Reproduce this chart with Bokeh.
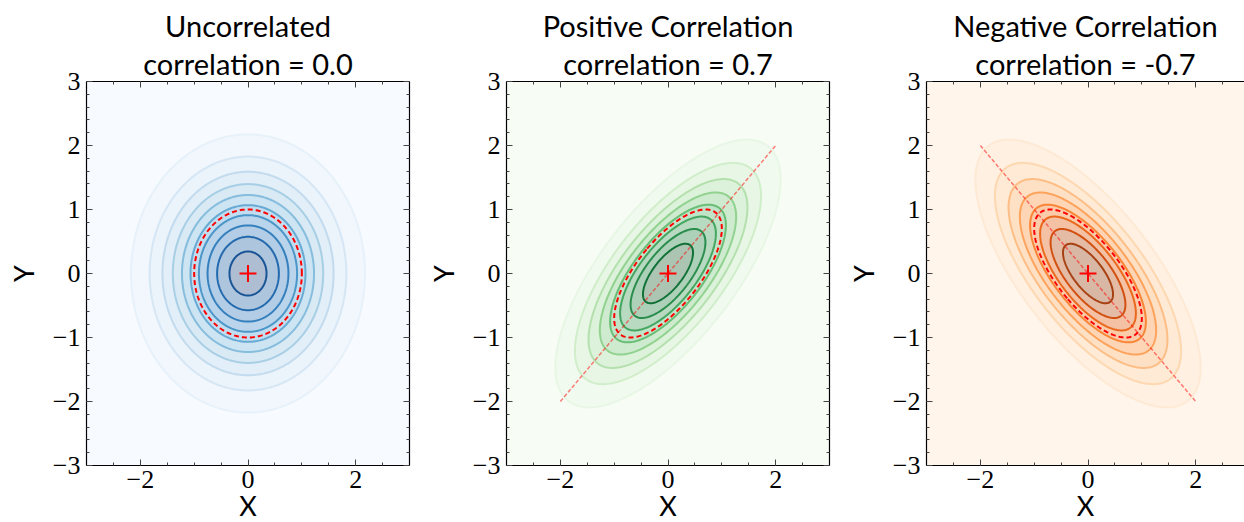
import numpy as np
from bokeh.plotting import figure
from bokeh.layouts import row
from bokeh.models import LinearAxis, FixedTicker, CustomJSTickFormatter, Range1d, Title
from bokeh.palettes import Blues256, Greens256, Oranges256
from bokeh.embed import file_html
from bokeh.resources import INLINE

# ---- data / parameters ----
panel_names = ["Uncorrelated", "Positive Correlation", "Negative Correlation"]
correlations = [0.0, 0.7, -0.7]
level_steps = [0.015, 0.025, 0.025]
palettes = [Blues256, Greens256, Oranges256]
mean_xy = [0.0, 0.0]
sigma_xy = [1.0, 1.0]
axis_limits = [-3.0, 3.0]
x_major_ticks = [-2, 0, 2]
x_minor_ticks = [-3, -2.5, -2, -1.5, -1, -0.5, 0, 0.5, 1, 1.5, 2, 2.5, 3]
y_major_ticks = [-3, -2, -1, 0, 1, 2, 3]
y_minor_ticks = [round(-3 + 0.2 * i, 1) for i in range(31)]
diagonal_ends = [-2.0, 2.0]

TICK_FONT = "Liberation Serif"
SANS = "Lato"

FRAME_W = 323
FRAME_H = 384
LEFT = 86
RIGHT = 11
TOP = 81
BOTTOM = 57


def cmap(pal, t):
    t = min(max(t, 0.0), 1.0)
    return pal[int(round((1.0 - t) * 255))]


fmt_code = "return (tick < 0 ? '\u2212' : '') + Math.abs(tick).toFixed(0);"


def style_axis(ax, show_labels):
    ax.axis_line_color = "black"
    ax.axis_line_width = 1.2
    ax.major_tick_in = 6
    ax.major_tick_out = 0
    ax.minor_tick_in = 3
    ax.minor_tick_out = 0
    ax.major_tick_line_color = "#444444"
    ax.minor_tick_line_color = "#444444"
    ax.major_tick_line_width = 1
    ax.minor_tick_line_width = 1
    if show_labels:
        ax.major_label_text_font = TICK_FONT
        ax.major_label_text_font_size = "26px"
        ax.major_label_text_color = "black"
        ax.formatter = CustomJSTickFormatter(code=fmt_code)
        ax.axis_label_text_font = SANS
        ax.axis_label_text_font_size = "27px"
        ax.axis_label_text_font_style = "normal"
        ax.axis_label_text_color = "black"
    else:
        ax.major_label_text_font_size = "0px"
        ax.major_label_standoff = 0
        ax.formatter = CustomJSTickFormatter(code="return '';")


def style_title(t):
    t.align = "center"
    t.text_font = SANS
    t.text_font_size = "29px"
    t.text_font_style = "normal"
    t.text_color = "black"


figs = []
for i, (name, rho, step, pal) in enumerate(zip(panel_names, correlations, level_steps, palettes)):
    last = i == len(panel_names) - 1
    fw = FRAME_W - 5 if last else FRAME_W
    x_end = axis_limits[0] + fw * (axis_limits[1] - axis_limits[0]) / FRAME_W
    p = figure(frame_width=fw, frame_height=FRAME_H,
               x_range=Range1d(axis_limits[0], x_end),
               y_range=Range1d(axis_limits[0], axis_limits[1]),
               output_backend="svg", toolbar_location=None,
               min_border_left=LEFT, min_border_right=0 if last else RIGHT,
               min_border_top=TOP, min_border_bottom=BOTTOM,
               background_fill_color=cmap(pal, 0.0),
               border_fill_color="white")
    p.outline_line_color = None
    p.grid.visible = False

    # density grid
    g = np.linspace(axis_limits[0], axis_limits[1], 301)
    X, Y = np.meshgrid(g, g)
    sx, sy = sigma_xy
    mx, my = mean_xy
    dx = (X - mx) / sx
    dy = (Y - my) / sy
    norm = 1.0 / (2 * np.pi * sx * sy * np.sqrt(1 - rho ** 2))
    Z = norm * np.exp(-(dx ** 2 - 2 * rho * dx * dy + dy ** 2) / (2 * (1 - rho ** 2)))

    n_top = int(np.ceil(Z.max() / step))
    levels = [step * k for k in range(n_top + 1)]
    nb = len(levels) - 1
    fill_colors = [cmap(pal, k / (nb - 1)) for k in range(nb)]
    line_colors = [cmap(pal, L / levels[-1]) for L in levels]

    p.contour(g, g, Z, levels=levels, fill_color=fill_colors, fill_alpha=0.3,
              line_color=line_colors, line_alpha=0.9, line_width=2.0)

    # diagonal along the major axis
    if rho != 0:
        sgn = np.sign(rho)
        p.line(x=diagonal_ends, y=[sgn * diagonal_ends[0], sgn * diagonal_ends[1]],
               line_color="red", line_alpha=0.5, line_width=1.5, line_dash="4 2")

    # 1-sigma ellipse
    cov = np.array([[sx ** 2, rho * sx * sy], [rho * sx * sy, sy ** 2]])
    vals, vecs = np.linalg.eigh(cov)
    t = np.linspace(0, 2 * np.pi, 200)
    circ = np.vstack([np.cos(t), np.sin(t)])
    pts = vecs @ np.diag(np.sqrt(vals)) @ circ
    p.line(x=pts[0] + mx, y=pts[1] + my, line_color="red", line_width=2, line_dash="5 3")

    p.scatter(x=[mx], y=[my], marker="cross", size=17, line_color="red", line_width=2)

    # axes
    p.xaxis.ticker = FixedTicker(ticks=x_major_ticks, minor_ticks=x_minor_ticks)
    p.yaxis.ticker = FixedTicker(ticks=y_major_ticks, minor_ticks=y_minor_ticks)
    style_axis(p.xaxis[0], True)
    style_axis(p.yaxis[0], True)
    p.xaxis.axis_label = "X"
    p.yaxis.axis_label = "Y"
    p.xaxis.major_label_standoff = 5
    p.yaxis.major_label_standoff = 6
    p.xaxis.axis_label_standoff = -2
    p.yaxis.axis_label_standoff = 10

    top_ax = LinearAxis(ticker=FixedTicker(ticks=x_major_ticks, minor_ticks=x_minor_ticks))
    style_axis(top_ax, False)
    p.add_layout(top_ax, "above")
    if not last:
        right_ax = LinearAxis(ticker=FixedTicker(ticks=y_major_ticks, minor_ticks=y_minor_ticks))
        style_axis(right_ax, False)
        p.add_layout(right_ax, "right")

    corr_txt = f"{rho:.1f}"
    sub = Title(text=f"correlation = {corr_txt}")
    style_title(sub)
    sub.standoff = 2
    p.add_layout(sub, "above")
    p.title.text = name
    style_title(p.title)
    p.title.standoff = 0

    figs.append(p)

layout = row(*figs, spacing=0)
open("out.html", "w").write(file_html(layout, INLINE))
